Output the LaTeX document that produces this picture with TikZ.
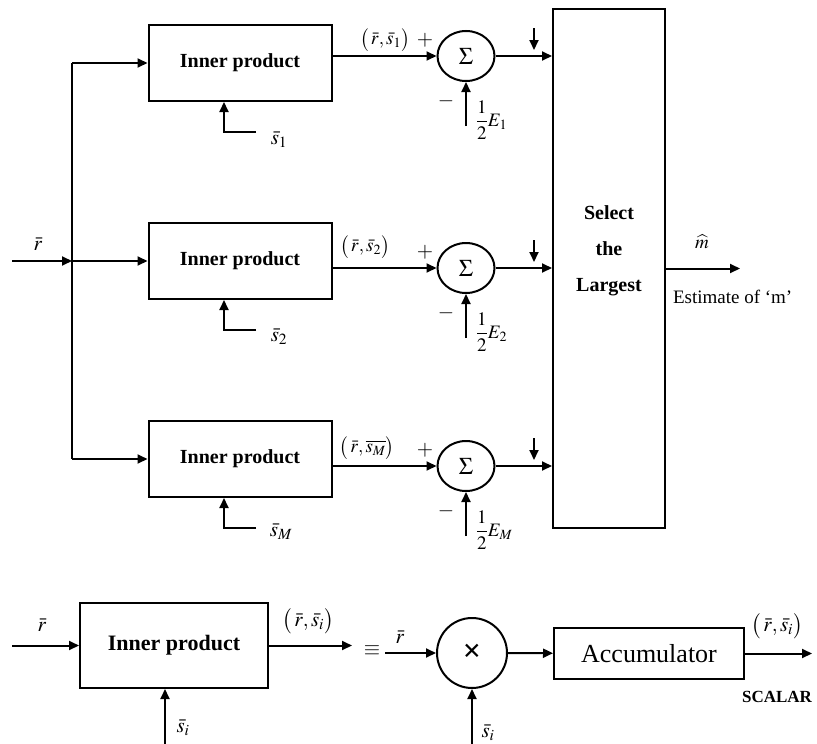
\documentclass[tikz,border=0pt]{standalone}
\usepackage{amsmath,amssymb}
\usepackage{mathptmx}
\usepackage{fontspec}
\setmainfont{Liberation Serif}
\usetikzlibrary{positioning,arrows.meta,shapes.geometric,calc}

\begin{document}
\begin{tikzpicture}[
  x=1pt, y=-1pt,
  line width=2pt,
  block/.style={draw, minimum width=183pt, minimum height=76pt, inner sep=0pt, font=\fontsize{20}{24}\selectfont\bfseries},
  sumnode/.style={draw, ellipse, minimum width=57pt, minimum height=50pt, inner sep=0pt, font=\fontsize{24}{26}\selectfont},
  lbl/.style={inner sep=0pt, font=\fontsize{19}{22}\selectfont},
  biglbl/.style={inner sep=0pt, font=\fontsize{21}{24}\selectfont},
  arr/.style={-{Triangle[length=10pt,width=9pt]}}
]
  \useasboundingbox (0,0) rectangle (817,744);

  % correlator bank
  \node[draw, minimum width=112pt, minimum height=519pt, inner sep=0pt] (sel) at (609,268.5) {};
  \node[align=center, font=\fontsize{20}{36}\selectfont\bfseries] (seltxt) at (609,251) {Select\\the\\Largest};

  \coordinate (rin) at (12,261);
  \coordinate (bus) at (72,261);
  \draw[arr] (rin) -- (bus);
  \node[biglbl] (rlbl) at (38,244) {$\bar{r}$};

  \foreach \i/\yb/\ys in {1/63/56, 2/261/268, 3/459/466} {
    \node[block] (ip\i) at (240,\yb) {Inner product};
    \node[sumnode] (sum\i) at (466,\ys) {$\Sigma$};
    \draw[arr] (bus |- ip\i.west) -- (ip\i.west);
    \draw[arr] (ip\i.east |- sum\i) -- (sum\i);
    \draw[arr] (sum\i) -- (sum\i -| sel.west);
    \coordinate (tick\i) at (534,\ys-28);
    \draw[arr] (tick\i) -- ++(0,22);
    \node[biglbl] (plus\i) at ($(sum\i)+(-41,-16)$) {$+$};
    \node[biglbl] (minus\i) at ($(sum\i)+(-20,45)$) {$-$};
    \coordinate (efeed\i) at ($(sum\i)+(0,70)$);
    \draw[arr] (efeed\i) -- (sum\i);
    \coordinate (sfeed\i) at ($(ip\i.south)+(16,30)$);
    \draw[arr] (sfeed\i) -| ([xshift=-16pt]ip\i.south);
  }
  \draw (bus |- ip1.west) -- (bus |- ip3.west);

  \node[biglbl] (s1lbl) at (279,140) {$\bar{s}_1$};
  \node[biglbl] (s2lbl) at (279,337) {$\bar{s}_2$};
  \node[biglbl] (s3lbl) at (281,532) {$\bar{s}_M$};

  \node[lbl] (c1lbl) at (385,40) {$\bigl(\,\bar{r},\bar{s}_1\bigr)$};
  \node[lbl] (c2lbl) at (365,247) {$\bigl(\,\bar{r},\bar{s}_2\bigr)$};
  \node[lbl] (c3lbl) at (367,448) {$\bigl(\,\bar{r},\overline{s_M}\bigr)$};

  \node[lbl, anchor=west] (e1lbl) at (475,120) {$\dfrac{1}{2}E_1$};
  \node[lbl, anchor=west] (e2lbl) at (475,332) {$\dfrac{1}{2}E_2$};
  \node[lbl, anchor=west] (e3lbl) at (475,530) {$\dfrac{1}{2}E_M$};

  \coordinate (mout) at (740,268.5);
  \draw[arr] (sel.east |- mout) -- (mout);
  \node[lbl] (mlbl) at (702,242) {$\widehat{m}$};
  \node[lbl, anchor=west] (estlbl) at (672,297) {Estimate of `m'};

  % inner product as multiplier + accumulator
  \node[block, minimum width=188pt, minimum height=85pt, font=\fontsize{22}{26}\selectfont\bfseries] (bip) at (174,645.5) {Inner product};
  \coordinate (rin2) at (12,645.5);
  \draw[arr] (rin2) -- (bip);
  \node[biglbl] (rlbl2) at (42,625) {$\bar{r}$};
  \coordinate (sib) at (165,744);
  \draw[arr] (sib) -- (sib |- bip.south);
  \node[biglbl] (silbl1) at (183,728) {$\bar{s}_i$};
  \coordinate (bout) at (352,645.5);
  \draw[arr] (bip) -- (bout);
  \node[biglbl] (bclbl) at (308,621) {$\bigl(\,\bar{r},\bar{s}_i\bigr)$};
  \node[biglbl] (equiv) at (372,651) {$\equiv$};
  \node[biglbl] (rlbl3) at (400,637) {$\bar{r}$};

  \node[draw, circle, minimum size=70pt, inner sep=0pt, font=\fontsize{32}{34}\selectfont\bfseries] (mul) at (472,653) {×};
  \coordinate (mulin) at (385,653);
  \draw[arr] (mulin) -- (mul);
  \coordinate (sic) at (472,744);
  \draw[arr] (sic) -- (mul);
  \node[biglbl] (silbl2) at (488,733) {$\bar{s}_i$};

  \node[draw, minimum width=190pt, minimum height=51pt, inner sep=0pt, font=\fontsize{26}{30}\selectfont] (acc) at (649,653.5) {Accumulator};
  \draw[arr] (mul) -- (acc);
  \coordinate (accout) at (812,653.5);
  \draw[arr] (acc) -- (accout);
  \node[biglbl] (albl) at (777,626) {$\bigl(\,\bar{r},\bar{s}_i\bigr)$};
  \node[inner sep=0pt, font=\fontsize{17}{20}\selectfont\bfseries] (scalar) at (777,697) {SCALAR};
\end{tikzpicture}
\end{document}
